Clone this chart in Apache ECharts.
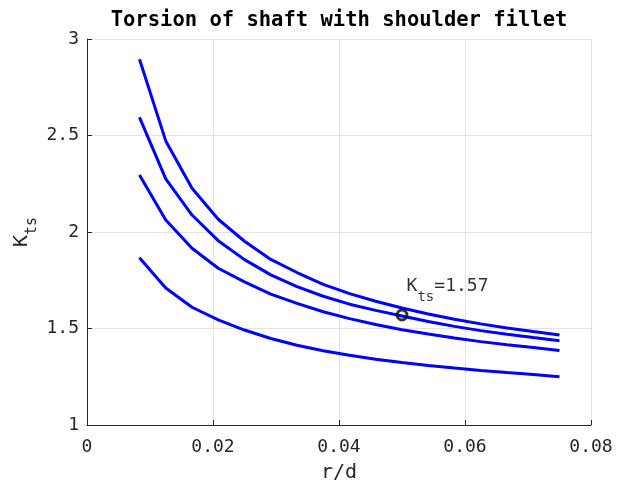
<!DOCTYPE html>
<html>
<head>
<meta charset="utf-8">
<script src="https://cdn.jsdelivr.net/npm/echarts@6/dist/echarts.min.js"></script>
<style>
html,body{margin:0;padding:0;background:#fff;}
#chart{width:622px;height:485px;}
</style>
</head>
<body>
<div id="chart"></div>
<script>
// r/d sample points
const rd = [0.00833, 0.0125, 0.01667, 0.02083, 0.025, 0.02917, 0.03333, 0.0375, 0.04167,
            0.04583, 0.05, 0.05417, 0.05833, 0.0625, 0.06667, 0.07083, 0.075];
// Kts curves (top to bottom)
const kts1 = [2.895, 2.472, 2.227, 2.066, 1.952, 1.858, 1.790, 1.729, 1.681, 1.641, 1.606, 1.575, 1.548, 1.524, 1.503, 1.484, 1.466];
const kts2 = [2.594, 2.275, 2.088, 1.955, 1.857, 1.778, 1.717, 1.667, 1.626, 1.594, 1.565, 1.536, 1.511, 1.489, 1.470, 1.453, 1.437];
const kts3 = [2.295, 2.062, 1.916, 1.812, 1.742, 1.678, 1.630, 1.587, 1.551, 1.521, 1.494, 1.471, 1.451, 1.432, 1.416, 1.401, 1.386];
const kts4 = [1.867, 1.710, 1.610, 1.545, 1.492, 1.448, 1.413, 1.385, 1.361, 1.341, 1.324, 1.308, 1.295, 1.283, 1.272, 1.262, 1.250];
// highlighted point
const markX = 0.05;
const markY = 1.57;
// axis ticks
const xTicks = { min: 0, max: 0.08, interval: 0.02 };
const yTicks = { min: 1, max: 3, interval: 0.5 };

const FONT = 'DejaVu Sans Mono';
const AX = '#262626';

function curve(values) {
  return {
    type: 'line',
    data: rd.map((x, i) => [x, values[i]]),
    showSymbol: false,
    symbol: 'none',
    lineStyle: { color: '#0000ff', width: 3 },
    z: 3
  };
}

const chart = echarts.init(document.getElementById('chart'), null, { renderer: 'canvas' });
chart.setOption({
  animation: false,
  backgroundColor: '#ffffff',
  title: {
    text: 'Torsion of shaft with shoulder fillet',
    left: 339,
    top: 10,
    padding: 0,
    textAlign: 'center',
    textStyle: { fontFamily: FONT, fontWeight: 'bold', fontSize: 20.5, color: '#000000', lineHeight: 21 }
  },
  grid: { left: 87, right: 31, top: 39, bottom: 60, containLabel: false, outerBoundsMode: 'none' },
  xAxis: {
    type: 'value',
    min: xTicks.min, max: xTicks.max, interval: xTicks.interval,
    name: 'r/d',
    nameLocation: 'middle',
    nameGap: 38,
    nameMoveOverlap: false,
    nameTextStyle: { fontFamily: FONT, fontSize: 20, color: AX, lineHeight: 20 },
    axisLine: { onZero: false, lineStyle: { color: AX, width: 1 } },
    axisTick: { inside: true, length: 5, lineStyle: { color: AX } },
    axisLabel: { margin: 13, fontFamily: FONT, fontSize: 18, color: AX, lineHeight: 18 },
    splitLine: { show: true, lineStyle: { color: '#e3e3e3', width: 1 } }
  },
  yAxis: {
    type: 'value',
    min: yTicks.min, max: yTicks.max, interval: yTicks.interval,
    name: '{k|K}{s|ts}',
    nameLocation: 'middle',
    nameGap: 55,
    nameMoveOverlap: false,
    nameTextStyle: {
      color: AX,
      rich: {
        k: { fontFamily: FONT, fontSize: 20, lineHeight: 20, verticalAlign: 'top', color: AX },
        s: { fontFamily: FONT, fontSize: 15, lineHeight: 15, padding: [13, 0, 0, 0], verticalAlign: 'top', color: AX }
      }
    },
    axisLine: { onZero: false, lineStyle: { color: AX, width: 1 } },
    axisTick: { inside: true, length: 5, lineStyle: { color: AX } },
    axisLabel: { margin: 8, fontFamily: FONT, fontSize: 18, color: AX },
    splitLine: { show: true, lineStyle: { color: '#e3e3e3', width: 1 } }
  },
  series: [
    curve(kts1), curve(kts2), curve(kts3), curve(kts4),
    {
      type: 'scatter',
      data: [[markX, markY]],
      symbol: 'circle',
      symbolSize: 10,
      itemStyle: { color: 'rgba(0,0,0,0)', borderColor: '#000000', borderWidth: 2.8 },
      z: 5,
      label: {
        show: true,
        position: [11, -31],
        formatter: '{k|K}{s|ts}{k|=' + markY.toFixed(2) + '}',
        rich: {
          k: { fontFamily: FONT, fontSize: 18, lineHeight: 18, verticalAlign: 'top', color: '#000000' },
          s: { fontFamily: FONT, fontSize: 14, lineHeight: 14, padding: [13, 0, 0, 0], verticalAlign: 'top', color: '#000000' }
        }
      }
    }
  ]
});
</script>
</body>
</html>
